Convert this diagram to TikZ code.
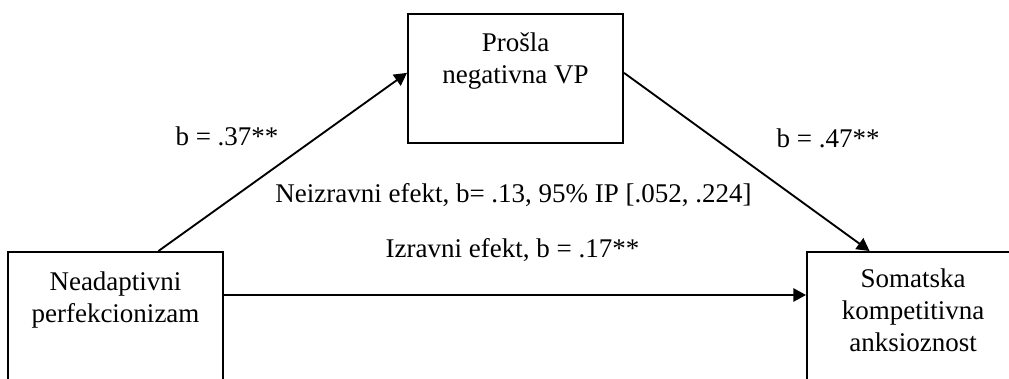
\documentclass[tikz,border=0pt]{standalone}
\usepackage{fontspec}
\setmainfont{Liberation Serif}
\usetikzlibrary{arrows.meta,calc}
\begin{document}
\begin{tikzpicture}[x=0.75pt,y=-0.75pt,
  every node/.style={font=\fontsize{20.25pt}{24pt}\selectfont},
  boxnode/.style={draw,line width=1.5pt,inner sep=0pt},
  boxtext/.style={align=center,anchor=base,inner sep=0pt},
  lbl/.style={anchor=base,inner sep=0pt},
  arr/.style={line width=1.4pt,-{Triangle[length=9.5pt,width=10pt]}}]
\path[use as bounding box] (0,0) rectangle (1009,378);
\clip (0,0) rectangle (1009,378);
% boxes
\node[boxnode,minimum width=161.25pt,minimum height=150pt] (lb) at (115.5,352) {};
\node[boxnode,minimum width=159pt,minimum height=150pt] (rb) at (913,352) {};
\node[boxnode,minimum width=161.25pt,minimum height=96.75pt] (tb) at (515.5,78.5) {};
% box texts (base = last line)
\node[boxtext] (lbt) at (115.5,322) {Neadaptivni\\perfekcionizam};
\node[boxtext] (tbt) at (515.5,84) {Prošla\\negativna VP};
\node[boxtext] (rbt) at (913,351) {Somatska\\kompetitivna\\anksioznost};
% connectors
\draw[arr] ($(lb.north west)!0.698!(lb.north east)$) -- ($(tb.north west)!0.457!(tb.south west)$);
\draw[arr] ($(tb.north east)!0.457!(tb.south east)$) -- ($(rb.north west)!0.297!(rb.north east)$);
\draw[arr] ($(lb.north east)+(0,44)$) -- ($(rb.north west)+(0,44)$);
% labels
\node[lbl] (l1) at (227,145) {b = .37**};
\node[lbl] (l2) at (828,147) {b = .47**};
\node[lbl] (l3) at (513.5,202) {Neizravni efekt, b= .13, 95\% IP [.052, .224]};
\node[lbl] (l4) at (512.5,257) {Izravni efekt, b = .17**};
\end{tikzpicture}
\end{document}
